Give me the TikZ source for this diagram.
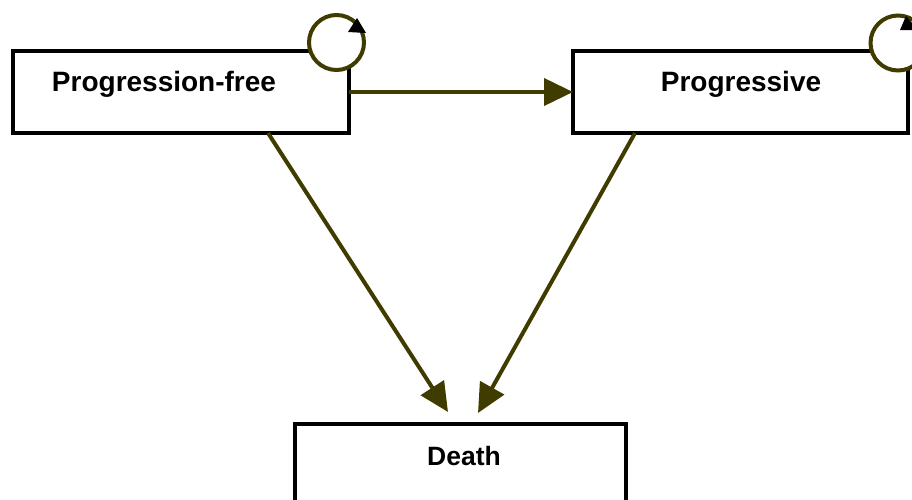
\documentclass[tikz,border=0pt]{standalone}
\usepackage{fontspec}
\setmainfont{Liberation Sans}
\usetikzlibrary{arrows.meta,calc}
\definecolor{olive}{RGB}{64,60,0}
\tikzset{
  statebox/.style={draw=black, line width=4pt, inner sep=0pt, outer sep=0pt, fill=white},
  lbl/.style={font=\bfseries\fontsize{28}{32}\selectfont, inner sep=0pt, anchor=base},
  arr/.style={draw=olive, line width=4pt, -{Triangle[length=29pt,width=27pt,color=olive]}},
  loopc/.style={draw=olive, line width=4pt, fill=white},
  looptip/.style={fill=black}
}
\begin{document}
\begin{tikzpicture}[x=1pt,y=-1pt]
\useasboundingbox (0,0) rectangle (912,499);
\clip (0,0) rectangle (912,499);
% boxes
\node[statebox, minimum width=336pt, minimum height=82pt] (pf) at (181,92) {};
\node[statebox, minimum width=335pt, minimum height=82pt] (pr) at (740.5,92) {};
\node[statebox, minimum width=331pt, minimum height=100pt] (de) at (460.5,474) {};
% labels
\node[lbl] (pft) at (164,91) {Progression-free};
\node[lbl] (prt) at (741,91) {Progressive};
\node[lbl, font=\bfseries\fontsize{26.5}{30}\selectfont] (det) at (464,465) {Death};
% self loops
\coordinate (l1) at (336.5,42.5);
\coordinate (l2) at (898,43);
\draw[loopc] (l1) circle[radius=27.5];
\fill[looptip] ($(l1)+(20.5,-24.5)$) -- ($(l1)+(11.5,-10.5)$) -- ($(l1)+(29.5,-9.5)$) -- cycle;
\draw[loopc] (l2) circle[radius=27.5];
\fill[looptip] ($(l2)+(8,-27)$) -- ($(l2)+(2,-13)$) -- ($(l2)+(20,-13)$) -- cycle;
% transitions
\draw[arr] (pf.east) -- (pr.west);
\coordinate (s1) at (268,133);
\coordinate (s2) at (635,133);
\coordinate (t1) at (448,412);
\coordinate (t2) at (478,413);
\draw[arr] (s1) -- (t1);
\draw[arr] (s2) -- (t2);
\end{tikzpicture}
\end{document}
